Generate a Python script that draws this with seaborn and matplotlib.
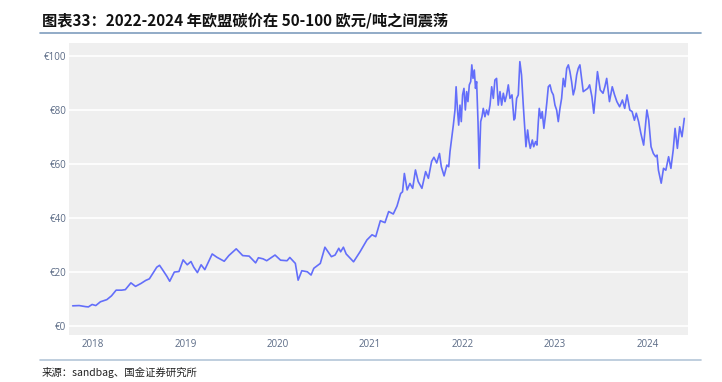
import numpy as np
import pandas as pd
import matplotlib
matplotlib.use("Agg")
import matplotlib.pyplot as plt
from matplotlib.lines import Line2D
import seaborn as sns

# EU carbon price (EUR/t); x is decimal year
year_pos = [
    2017.78, 2017.85, 2017.92, 2017.95, 2017.99, 2018.03, 2018.08, 2018.15, 2018.20, 2018.25,
    2018.31, 2018.35, 2018.41, 2018.46, 2018.52, 2018.57, 2018.61, 2018.69, 2018.72, 2018.75,
    2018.80, 2018.83, 2018.88, 2018.93, 2018.975, 2019.02, 2019.06, 2019.09, 2019.13, 2019.17,
    2019.21, 2019.29, 2019.34, 2019.42, 2019.47, 2019.55, 2019.62, 2019.69, 2019.76, 2019.79,
    2019.84, 2019.88, 2019.97, 2020.03, 2020.10, 2020.13, 2020.19, 2020.22, 2020.26, 2020.32,
    2020.36, 2020.39, 2020.46, 2020.51, 2020.58, 2020.62, 2020.66, 2020.68, 2020.71, 2020.74,
    2020.82, 2020.89, 2020.965, 2021.02, 2021.06, 2021.11, 2021.16, 2021.20, 2021.25, 2021.29,
    2021.33, 2021.35, 2021.37, 2021.40, 2021.43, 2021.46, 2021.49, 2021.52, 2021.56, 2021.60,
    2021.63, 2021.665, 2021.69, 2021.72, 2021.75, 2021.77, 2021.80, 2021.83, 2021.85,
    # 2022-2023 dense section
    2021.864, 2021.882, 2021.90, 2021.918, 2021.93, 2021.945, 2021.958, 2021.972, 2021.986, 2022.00,
    2022.015, 2022.03, 2022.044, 2022.058, 2022.073, 2022.088, 2022.10, 2022.113, 2022.127, 2022.14,
    2022.152, 2022.167, 2022.18, 2022.196, 2022.21, 2022.224, 2022.242, 2022.26, 2022.278, 2022.297,
    2022.315, 2022.333, 2022.35, 2022.368, 2022.386, 2022.405, 2022.423, 2022.441, 2022.459, 2022.477,
    2022.495, 2022.513, 2022.535, 2022.556, 2022.567, 2022.585, 2022.603, 2022.62, 2022.638, 2022.657,
    2022.675, 2022.686, 2022.704, 2022.719, 2022.733, 2022.755, 2022.77, 2022.79, 2022.805, 2022.82,
    2022.83, 2022.848, 2022.862, 2022.88, 2022.898, 2022.913, 2022.928, 2022.946, 2022.964, 2022.982,
    2023.00, 2023.018, 2023.036, 2023.054, 2023.072, 2023.09, 2023.108, 2023.127, 2023.145, 2023.162,
    2023.18, 2023.198, 2023.216, 2023.235, 2023.252, 2023.27, 2023.288, 2023.306,
    # 2023-2024
    2023.355, 2023.375, 2023.40, 2023.42, 2023.44, 2023.46, 2023.49, 2023.52, 2023.54, 2023.56,
    2023.59, 2023.62, 2023.645, 2023.67, 2023.70, 2023.73, 2023.755, 2023.78, 2023.81, 2023.835,
    2023.86, 2023.88, 2023.905, 2023.93, 2023.96, 2023.975, 2023.995, 2024.015, 2024.04, 2024.065,
    2024.09, 2024.105, 2024.12, 2024.15, 2024.175, 2024.20, 2024.23, 2024.255, 2024.28, 2024.30,
    2024.325, 2024.35, 2024.375, 2024.40,
]
price = [
    7.5, 7.6, 7.2, 7.1, 8.0, 7.6, 9.0, 9.8, 11.2, 13.3,
    13.3, 13.5, 16.0, 14.7, 15.8, 16.9, 17.5, 21.8, 22.5, 21.0,
    18.4, 16.6, 20.0, 20.2, 24.5, 22.7, 23.9, 21.8, 19.8, 22.7,
    20.9, 26.7, 25.5, 24.0, 26.1, 28.6, 26.1, 25.9, 23.4, 25.3,
    24.9, 24.2, 26.3, 24.4, 24.2, 25.4, 23.2, 17.0, 20.5, 20.1,
    18.9, 21.4, 23.2, 29.2, 25.7, 26.3, 28.8, 27.5, 29.2, 26.7,
    23.8, 27.5, 31.9, 33.8, 33.1, 39.0, 38.3, 42.4, 41.5, 44.4,
    49.1, 49.7, 56.5, 50.4, 52.8, 51.0, 57.8, 53.5, 51.0, 57.2,
    54.7, 61.0, 62.5, 60.4, 63.9, 59.0, 55.6, 59.6, 59.0,
    # 2022-2023 dense section
    64.6, 69.5, 74.4, 80.0, 88.6, 80.0, 74.4, 81.8, 75.7, 85.6,
    88.0, 80.0, 86.8, 83.1, 89.3, 90.5, 96.7, 91.7, 94.8, 88.0,
    90.5, 75.7, 58.4, 75.7, 77.5, 80.6, 77.5, 80.0, 78.2, 81.8,
    88.6, 84.3, 91.1, 91.7, 81.8, 86.8, 81.8, 86.2, 83.1, 85.6,
    89.3, 84.3, 85.6, 76.3, 76.9, 84.3, 85.6, 97.9, 93.0, 81.8,
    71.9, 66.4, 72.6, 68.3, 65.8, 68.9, 66.4, 68.3, 67.0, 75.7,
    80.6, 76.9, 79.4, 73.2, 78.2, 83.1, 88.6, 89.3, 86.8, 85.6,
    81.8, 80.0, 75.7, 80.6, 84.3, 91.7, 88.6, 95.4, 96.7, 94.2,
    90.5, 85.6, 88.0, 93.0, 95.4, 96.7, 91.7, 86.8,
    # 2023-2024
    88.0, 89.3, 84.9, 78.8, 86.2, 94.2, 87.4, 86.2, 88.6, 91.7,
    83.1, 88.6, 85.6, 83.1, 81.2, 83.7, 80.6, 85.6, 80.0, 79.4,
    76.2, 78.8, 75.7, 71.3, 67.0, 72.6, 80.0, 76.2, 66.4, 63.9,
    62.7, 63.3, 57.7, 52.9, 58.4, 57.7, 62.7, 58.4, 65.2, 73.2,
    65.8, 73.8, 70.1, 76.9,
]
year_ticks = [2018, 2019, 2020, 2021, 2022, 2023, 2024]
y_ticks = [0, 20, 40, 60, 80, 100]
y_labels = ["€0", "€20", "€40", "€60", "€80", "€100"]

title = "图表33：2022-2024 年欧盟碳价在 50-100 欧元/吨之间震荡"
source = "来源：sandbag、国金证券研究所"

sns.set_theme(style="darkgrid", rc={
    "axes.facecolor": "#efefef",
    "grid.color": "white",
    "grid.linewidth": 1.2,
})
plt.rcParams["font.family"] = ["Noto Sans CJK SC", "DejaVu Sans"]

df = pd.DataFrame({"year": year_pos, "price": price})

fig = plt.figure(figsize=(7.22, 3.82), dpi=100)
ax = fig.add_axes([69 / 722, 1 - 335 / 382, (688 - 69) / 722, (335 - 43) / 382])

sns.lineplot(data=df, x="year", y="price", ax=ax, color="#636efa", linewidth=1.2)

ax.set_xlim(2017.74, 2024.44)
ax.set_ylim(-3.3, 104.8)
ax.set_xticks(year_ticks)
ax.set_xticklabels([str(y) for y in year_ticks], fontfamily="Open Sans")
ax.set_yticks(y_ticks)
ax.set_yticklabels(y_labels, fontfamily="Open Sans")
ax.grid(axis="x", visible=False)
ax.set_xlabel("")
ax.set_ylabel("")
ax.tick_params(axis="both", length=0, labelsize=7, labelcolor="#5a6a85")
ax.tick_params(axis="x", pad=3)
ax.tick_params(axis="y", pad=2)
for s in ax.spines.values():
    s.set_visible(False)

# header and footer
fig.text(42 / 722, 1 - 20 / 382, title, fontsize=11, fontweight="bold",
         color="#111111", va="center", ha="left")
fig.add_artist(Line2D([40 / 722, 701 / 722], [1 - 33 / 382, 1 - 33 / 382],
                      color="#7f9dbd", linewidth=1.2))
fig.add_artist(Line2D([40 / 722, 701 / 722], [1 - 360 / 382, 1 - 360 / 382],
                      color="#b4c6d8", linewidth=1.2))
fig.text(42 / 722, 1 - 373 / 382, source, fontsize=7.5, color="#222222",
         va="center", ha="left")

fig.savefig("out.png", dpi=100, facecolor="white")
